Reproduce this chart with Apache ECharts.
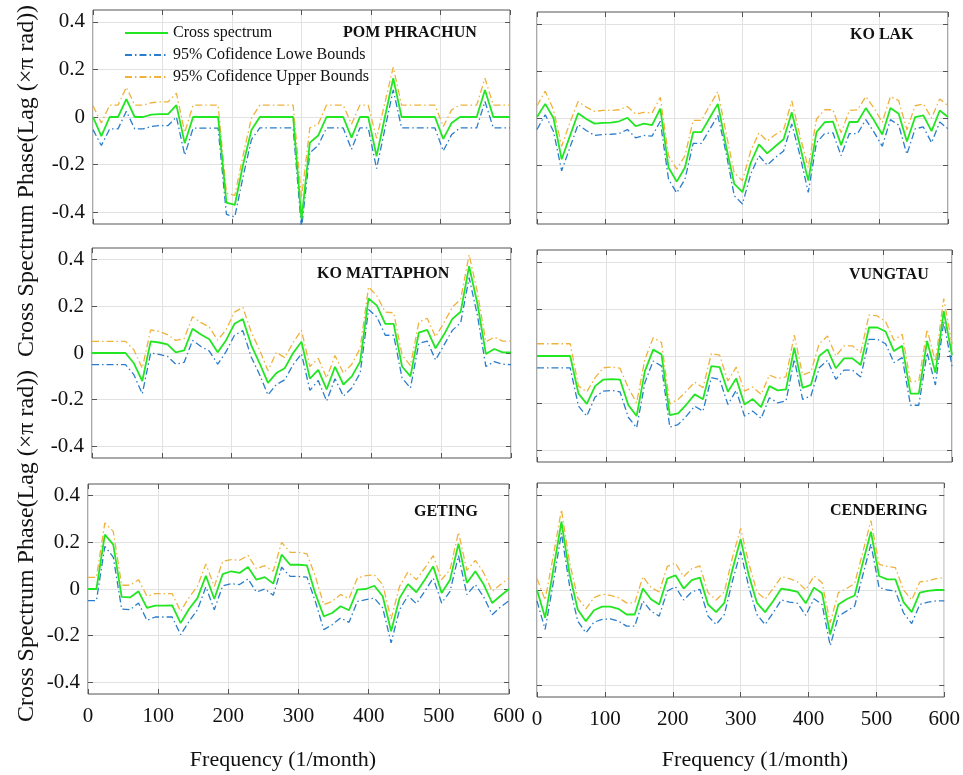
<!DOCTYPE html>
<html>
<head>
<meta charset="utf-8">
<title>Cross spectrum phase</title>
<script src="https://cdn.jsdelivr.net/npm/echarts@6/dist/echarts.min.js"></script>
<style>
html, body { margin: 0; padding: 0; background: #fff; }
#chart { width: 963px; height: 775px; }
</style>
</head>
<body>
<div id="chart"></div>
<script>
// frequency (1/month), shared by every panel
let freq = [0, 12, 24, 36, 48, 60, 72, 84, 96, 108, 120, 132, 144, 156, 168, 180, 192, 204, 216, 228, 240, 252, 264, 276, 288, 300,
  312, 324, 336, 348, 360, 372, 384, 396, 408, 420, 432, 444, 456, 468, 480, 492, 504, 516, 528, 540, 552, 564, 576, 588, 600]
let xTicks = [0, 100, 200, 300, 400, 500, 600]
let yTicks = [-0.4, -0.2, 0, 0.2, 0.4]

let pomCross = [0, -0.08, 0, 0, 0.075, 0, 0, 0.01, 0.012, 0.012, 0.05, -0.11, 0, 0, 0, 0,
  -0.36, -0.37, -0.2, -0.055, 0, 0, 0, 0, 0, -0.43,
  -0.108, -0.078, 0, 0, 0, -0.087, 0, 0, -0.165, 0,
  0.163, 0, 0, 0, 0, 0, -0.092, -0.025, 0, 0,
  0, 0.114, 0, 0, 0]
let pomLower = [-0.053, -0.12, -0.05, -0.05, 0.024, -0.05, -0.05, -0.04, -0.036, -0.036, 0, -0.16, -0.047, -0.047, -0.047, -0.047,
  -0.41, -0.42, -0.25, -0.095, -0.046, -0.046, -0.046, -0.046, -0.046, -0.47,
  -0.15, -0.12, -0.046, -0.046, -0.046, -0.136, -0.046, -0.046, -0.217, -0.05,
  0.114, -0.046, -0.046, -0.046, -0.046, -0.046, -0.143, -0.074, -0.046, -0.046,
  -0.046, 0.065, -0.046, -0.046, -0.046]
let pomUpper = [0.047, -0.025, 0.05, 0.05, 0.125, 0.05, 0.05, 0.06, 0.064, 0.064, 0.1, -0.065, 0.05, 0.05, 0.05, 0.05,
  -0.32, -0.33, -0.16, -0.005, 0.05, 0.05, 0.05, 0.05, 0.05, -0.34,
  -0.046, -0.03, 0.05, 0.05, 0.05, -0.03, 0.05, 0.05, -0.09, 0.06,
  0.21, 0.05, 0.05, 0.05, 0.05, 0.05, -0.04, 0.03, 0.05, 0.05,
  0.05, 0.163, 0.05, 0.05, 0.05]

let koLakCross = [0.004, 0.06, 0, -0.175, -0.077, 0.02, -0.004, -0.024, -0.021, -0.02, -0.014, 0.001, -0.035, -0.024, -0.03, 0.04,
  -0.21, -0.27, -0.21, -0.06, -0.06, 0, 0.06, -0.12, -0.28, -0.315,
  -0.19, -0.112, -0.15, -0.12, -0.09, 0.024, -0.12, -0.266, -0.06, -0.018,
  -0.015, -0.115, -0.017, -0.017, 0.042, -0.01, -0.07, 0.042, 0.018, -0.1,
  0.004, 0.011, -0.056, 0.032, 0.004]
let koLakLower = [-0.049, 0.014, -0.056, -0.224, -0.126, -0.028, -0.053, -0.074, -0.07, -0.069, -0.066, -0.049, -0.084, -0.074, -0.077, -0.014,
  -0.26, -0.318, -0.26, -0.108, -0.108, -0.049, 0.011, -0.147, -0.33, -0.365,
  -0.238, -0.16, -0.2, -0.168, -0.14, -0.025, -0.16, -0.316, -0.105, -0.066,
  -0.063, -0.16, -0.066, -0.066, -0.007, -0.06, -0.12, -0.007, -0.03, -0.154,
  -0.046, -0.038, -0.105, -0.017, -0.046]
let koLakUpper = [0.052, 0.114, 0.035, -0.12, -0.02, 0.07, 0.046, 0.028, 0.032, 0.032, 0.035, 0.049, 0.017, 0.024, 0.021, 0.088,
  -0.16, -0.217, -0.16, -0.01, -0.01, 0.052, 0.112, -0.063, -0.234, -0.266,
  -0.14, -0.063, -0.098, -0.07, -0.05, 0.073, -0.077, -0.21, -0.004, 0.035,
  0.035, -0.063, 0.032, 0.035, 0.091, 0.042, -0.018, 0.091, 0.074, -0.05,
  0.052, 0.06, 0, 0.081, 0.052]

let matCross = [0, 0, 0, 0, 0, -0.044, -0.12, 0.05, 0.045, 0.037, 0.003, 0.011, 0.104, 0.079, 0.059, 0.003,
  0.055, 0.125, 0.146, 0.034, -0.044, -0.128, -0.086, -0.065, 0, 0.048,
  -0.11, -0.072, -0.156, -0.059, -0.135, -0.1, -0.037, 0.234, 0.203, 0.125,
  0.125, -0.058, -0.1, 0.087, 0.099, 0.02, 0.079, 0.146, 0.177, 0.372,
  0.21, -0.004, 0.017, 0.003, 0.003]
let matLower = [-0.05, -0.05, -0.05, -0.05, -0.05, -0.093, -0.175, 0, -0.006, -0.014, -0.048, -0.04, 0.054, 0.028, 0.008, -0.048,
  0.006, 0.076, 0.096, -0.017, -0.093, -0.18, -0.135, -0.115, -0.05, -0.003,
  -0.16, -0.118, -0.206, -0.11, -0.185, -0.15, -0.086, 0.186, 0.154, 0.076,
  0.076, -0.107, -0.15, 0.041, 0.051, -0.03, 0.034, 0.097, 0.13, 0.323,
  0.16, -0.058, -0.037, -0.048, -0.05]
let matUpper = [0.05, 0.05, 0.05, 0.05, 0.05, 0.013, -0.065, 0.099, 0.093, 0.079, 0.054, 0.062, 0.155, 0.13, 0.111, 0.055,
  0.1, 0.175, 0.196, 0.09, 0.013, -0.076, 0.003, -0.02, 0.045, 0.097,
  -0.058, -0.023, -0.107, -0.011, -0.086, -0.048, 0.02, 0.283, 0.245, 0.175,
  0.172, -0.008, -0.054, 0.132, 0.149, 0.069, 0.13, 0.196, 0.231, 0.421,
  0.259, 0.048, 0.068, 0.051, 0.051]

let vungCross = [0, 0, 0, 0, 0, -0.16, -0.203, -0.128, -0.1, -0.098, -0.1, -0.208, -0.255, -0.064, 0.027, 0.007,
  -0.251, -0.244, -0.206, -0.163, -0.184, -0.043, -0.047, -0.152, -0.095, -0.206,
  -0.183, -0.217, -0.128, -0.146, -0.142, 0.035, -0.135, -0.123, 0, 0.028,
  -0.052, -0.01, -0.01, -0.038, 0.121, 0.121, 0.104, 0.021, 0.043, -0.16,
  -0.16, 0.064, -0.071, 0.191, 0.004]
let vungLower = [-0.05, -0.05, -0.05, -0.05, -0.05, -0.213, -0.255, -0.174, -0.149, -0.146, -0.152, -0.26, -0.305, -0.113, -0.021, -0.043,
  -0.302, -0.291, -0.255, -0.213, -0.234, -0.092, -0.099, -0.206, -0.146, -0.255,
  -0.234, -0.265, -0.177, -0.199, -0.191, -0.014, -0.184, -0.17, -0.05, -0.018,
  -0.099, -0.06, -0.06, -0.089, 0.071, 0.071, 0.052, -0.028, -0.007, -0.209,
  -0.209, 0.014, -0.123, 0.146, -0.043]
let vungUpper = [0.052, 0.052, 0.052, 0.052, 0.052, -0.128, -0.152, -0.092, -0.05, -0.047, -0.052, -0.135, -0.199, -0.014, 0.078, 0.057,
  -0.203, -0.184, -0.149, -0.111, -0.135, 0.01, 0.004, -0.106, -0.047, -0.149,
  -0.132, -0.163, -0.081, -0.095, -0.089, 0.089, -0.081, -0.067, 0.052, 0.085,
  0, 0.043, 0.043, 0.014, 0.174, 0.17, 0.146, 0.067, 0.092, -0.109,
  -0.106, 0.113, -0.024, 0.244, 0.05]

let getCross = [0, 0, 0.233, 0.19, -0.034, -0.036, -0.01, -0.081, -0.071, -0.071, -0.07, -0.146, -0.086, -0.039, 0.057, -0.043,
  0.064, 0.076, 0.069, 0.094, 0.04, 0.051, 0.023, 0.147, 0.104, 0.104,
  0.101, -0.02, -0.117, -0.103, -0.074, -0.091, -0.003, 0, 0.014, -0.031,
  -0.181, -0.039, 0.021, -0.014, 0.04, 0.097, -0.017, 0.04, 0.194, 0.026,
  0.076, 0.019, -0.06, -0.029, 0]
let getLower = [-0.05, -0.05, 0.183, 0.137, -0.086, -0.089, -0.06, -0.134, -0.12, -0.12, -0.12, -0.196, -0.139, -0.089, 0.009, -0.089,
  0.014, 0.023, 0.019, 0.043, -0.013, 0, -0.027, 0.093, 0.054, 0.054,
  0.051, -0.053, -0.174, -0.153, -0.124, -0.143, -0.053, -0.046, -0.039, -0.081,
  -0.231, -0.089, -0.029, -0.063, -0.01, 0.047, -0.06, -0.01, 0.143, -0.024,
  0.019, -0.034, -0.11, -0.077, -0.05]
let getUpper = [0.05, 0.05, 0.283, 0.247, 0.016, 0.016, 0.04, -0.031, -0.02, -0.02, -0.02, -0.096, -0.036, 0.011, 0.107, 0.011,
  0.119, 0.126, 0.123, 0.144, 0.087, 0.1, 0.076, 0.2, 0.157, 0.157,
  0.151, 0.054, -0.067, -0.053, -0.024, -0.041, 0.047, 0.057, 0.061, 0.019,
  -0.129, 0.011, 0.073, 0.04, 0.09, 0.143, 0.04, 0.083, 0.243, 0.08,
  0.123, 0.069, -0.01, 0.019, 0.047]

let cenCross = [0, -0.117, 0.086, 0.287, 0.066, -0.082, -0.131, -0.085, -0.07, -0.07, -0.079, -0.103, -0.103, 0.006, -0.039, -0.061,
  0.048, 0.062, 0.006, 0.042, 0.052, -0.061, -0.093, -0.054, 0.087, 0.214,
  0.062, -0.054, -0.093, -0.046, 0.006, 0, -0.008, -0.056, 0.01, -0.014,
  -0.187, -0.061, -0.039, -0.023, 0.115, 0.245, 0.059, 0.045, 0.045, -0.051,
  -0.093, -0.011, -0.004, 0, 0]
let cenLower = [-0.046, -0.166, 0.031, 0.239, 0.017, -0.131, -0.18, -0.135, -0.124, -0.121, -0.131, -0.152, -0.152, -0.046, -0.089, -0.11,
  -0.004, 0.014, -0.042, -0.008, 0.003, -0.11, -0.145, -0.103, 0.038, 0.161,
  0.014, -0.103, -0.145, -0.096, -0.042, -0.051, -0.056, -0.107, -0.037, -0.061,
  -0.234, -0.11, -0.089, -0.068, 0.062, 0.193, 0.01, 0, -0.004, -0.096,
  -0.141, -0.061, -0.051, -0.046, -0.046]
let cenUpper = [0.048, -0.042, 0.144, 0.338, 0.115, -0.032, -0.079, -0.032, -0.018, -0.023, -0.032, -0.054, -0.054, 0.056, 0.01, -0.008,
  0.099, 0.113, 0.056, 0.09, 0.101, -0.011, -0.042, -0.008, 0.137, 0.259,
  0.113, -0.008, -0.039, 0.006, 0.056, 0.048, 0.034, 0, 0.059, 0.031,
  -0.138, -0.011, 0.006, 0.028, 0.158, 0.292, 0.108, 0.099, 0.094, 0,
  -0.042, 0.034, 0.038, 0.048, 0.052]

let nameCross = 'Cross spectrum'
let nameLower = '95% Cofidence Lowe Bounds'
let nameUpper = '95% Cofidence Upper Bounds'

let panels = [
  {title: 'POM PHRACHUN', cross: pomCross, lower: pomLower, upper: pomUpper,
    grid: {left: 93, top: 10, width: 417, height: 214}, tl: 338, tt: 20, yLab: true, xLab: false},
  {title: 'KO LAK', cross: koLakCross, lower: koLakLower, upper: koLakUpper,
    grid: {left: 537, top: 12, width: 411, height: 212}, tl: 845, tt: 22, yLab: false, xLab: false},
  {title: 'KO MATTAPHON', cross: matCross, lower: matLower, upper: matUpper,
    grid: {left: 92, top: 248, width: 419, height: 210}, tl: 312, tt: 261, yLab: true, xLab: false},
  {title: 'VUNGTAU', cross: vungCross, lower: vungLower, upper: vungUpper,
    grid: {left: 537, top: 250, width: 415, height: 212}, tl: 844, tt: 262, yLab: false, xLab: false},
  {title: 'GETING', cross: getCross, lower: getLower, upper: getUpper,
    grid: {left: 88, top: 484, width: 421, height: 210}, tl: 409, tt: 499, yLab: true, xLab: true},
  {title: 'CENDERING', cross: cenCross, lower: cenLower, upper: cenUpper,
    grid: {left: 537, top: 483, width: 415, height: 214}, tl: 825, tt: 498, yLab: false, xLab: true}
]

let serif = 'Liberation Serif, Times New Roman, serif'
let dashDot = [7, 3, 1.5, 3]
let tickStyle = {show: true, inside: true, length: 5, lineStyle: {color: '#555'}}

let grids = []
let xAxes = []
let yAxes = []
let series = []
let titles = []

panels.forEach(function (p, i) {
  grids.push({
    left: p.grid.left,
    top: p.grid.top,
    width: p.grid.width,
    height: p.grid.height,
    show: true,
    borderColor: '#555',
    borderWidth: 1
  })
  titles.push({
    text: p.title,
    left: p.tl,
    top: p.tt,
    textStyle: {fontFamily: serif, fontSize: 16, fontWeight: 'bold', color: '#111'}
  })
  // bottom + top x axes (top one only carries the inward ticks)
  xAxes.push({
    type: 'value', gridIndex: i, min: 0, max: 600, interval: 100, position: 'bottom',
    axisLine: {show: false, onZero: false},
    axisTick: tickStyle,
    axisLabel: {show: p.xLab, fontFamily: serif, fontSize: 21, color: '#111', margin: 12},
    splitLine: {show: true, lineStyle: {color: '#e2e2e2', width: 1}}
  })
  xAxes.push({
    type: 'value', gridIndex: i, min: 0, max: 600, interval: 100, position: 'top',
    axisLine: {show: false, onZero: false},
    axisTick: tickStyle,
    axisLabel: {show: false},
    splitLine: {show: false}
  })
  // left + right y axes
  yAxes.push({
    type: 'value', gridIndex: i, min: -0.45, max: 0.45, position: 'left',
    axisLine: {show: false, onZero: false},
    axisTick: {show: true, inside: true, length: 5, customValues: yTicks, lineStyle: {color: '#555'}},
    axisLabel: {show: p.yLab, fontFamily: serif, fontSize: 21, color: '#111', margin: 8,
      customValues: yTicks,
      formatter: function (v) { return v === 0 ? '0' : v.toFixed(1) }},
    splitLine: {show: true, lineStyle: {color: '#e2e2e2', width: 1}}
  })
  yAxes.push({
    type: 'value', gridIndex: i, min: -0.45, max: 0.45, position: 'right',
    axisLine: {show: false, onZero: false},
    axisTick: {show: true, inside: true, length: 5, customValues: yTicks, lineStyle: {color: '#555'}},
    axisLabel: {show: false},
    splitLine: {show: false}
  })
  let pairs = function (vals) {
    return freq.map(function (f, k) { return [f, vals[k]] })
  }
  series.push({
    name: nameUpper, type: 'line', xAxisIndex: 2 * i, yAxisIndex: 2 * i,
    data: pairs(p.upper), symbol: 'none', z: 2,
    lineStyle: {color: '#f0b23c', width: 1.3, type: dashDot},
    itemStyle: {color: '#f0b23c'}
  })
  series.push({
    name: nameLower, type: 'line', xAxisIndex: 2 * i, yAxisIndex: 2 * i,
    data: pairs(p.lower), symbol: 'none', z: 3,
    lineStyle: {color: '#2a7dcb', width: 1.3, type: dashDot},
    itemStyle: {color: '#2a7dcb'}
  })
  series.push({
    name: nameCross, type: 'line', xAxisIndex: 2 * i, yAxisIndex: 2 * i,
    data: pairs(p.cross), symbol: 'none', z: 4,
    lineStyle: {color: '#22e622', width: 1.8},
    itemStyle: {color: '#22e622'}
  })
})

let yName = 'Cross Spectrum Phase(Lag (\u00d7\u03c0 rad))'
let xName = 'Frequency (1/month)'

let option = {
  backgroundColor: '#fff',
  animation: false,
  title: titles,
  legend: {
    data: [nameCross, nameLower, nameUpper],
    orient: 'vertical',
    left: 119,
    top: 20,
    itemWidth: 43,
    itemHeight: 12,
    itemGap: 6,
    selectedMode: false,
    itemStyle: {color: 'rgba(0,0,0,0)', borderWidth: 0, opacity: 0},
    textStyle: {fontFamily: serif, fontSize: 16, color: '#111'}
  },
  grid: grids,
  xAxis: xAxes,
  yAxis: yAxes,
  series: series,
  graphic: [
    {type: 'text', x: 27, y: 181, rotation: Math.PI / 2,
      style: {text: yName, font: '24px ' + serif, fill: '#111', align: 'center', verticalAlign: 'middle'}},
    {type: 'text', x: 27, y: 546, rotation: Math.PI / 2,
      style: {text: yName, font: '24px ' + serif, fill: '#111', align: 'center', verticalAlign: 'middle'}},
    {type: 'text', x: 283, y: 760,
      style: {text: xName, font: '22px ' + serif, fill: '#111', align: 'center', verticalAlign: 'middle'}},
    {type: 'text', x: 755, y: 760,
      style: {text: xName, font: '22px ' + serif, fill: '#111', align: 'center', verticalAlign: 'middle'}}
  ]
}

let chart = echarts.init(document.getElementById('chart'))
chart.setOption(option)
</script>
</body>
</html>
